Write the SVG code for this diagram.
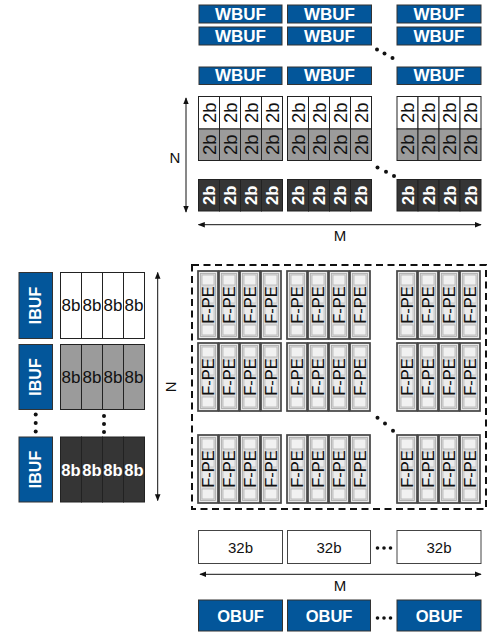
<svg xmlns="http://www.w3.org/2000/svg" xmlns:xlink="http://www.w3.org/1999/xlink" width="487" height="637" viewBox="0 0 487 637">
<style>
text{font-family:"Liberation Sans",Arial,sans-serif}
.buf{fill:#03569a;stroke:#333;stroke-width:1}
.bt{fill:#fff;font-weight:bold;text-anchor:middle;dominant-baseline:central}
.cell{stroke:#222;stroke-width:1}
.w{fill:#fff}.g{fill:#9b9b9b}.d{fill:#353535}
.t{font-size:17px;fill:#111;text-anchor:middle;dominant-baseline:central}
.t2{font-size:18.5px}
.tw{font-size:16.5px;fill:#fff;font-weight:bold;text-anchor:middle;dominant-baseline:central}
.pe{font-size:16.5px;fill:#111;text-anchor:middle;dominant-baseline:central}
.lbl{font-size:15px;fill:#111;text-anchor:middle;dominant-baseline:central}
.ln{stroke:#111;stroke-width:1;fill:none}
.dot{fill:#111}
.box{fill:#fff;stroke:#444;stroke-width:1}
</style>
<defs>
<marker id="ah" viewBox="0 0 10 10" refX="9" refY="5" markerWidth="7" markerHeight="7" orient="auto-start-reverse" markerUnits="userSpaceOnUse"><path d="M0,1 L10,5 L0,9 Z" fill="#111"/></marker>
<g id="pecell">
<rect x="0" y="0" width="20" height="68" fill="#e9e9e9" stroke="#444" stroke-width="1.7"/>
<rect x="2.5" y="2.5" width="15" height="63" fill="#dcdcdc" stroke="#a8a8a8" stroke-width="0.8"/>
<rect x="4" y="4" width="12" height="10" fill="#f1f1f1" stroke="#b5b5b5" stroke-width="0.8"/>
<rect x="4" y="18" width="12" height="14" fill="#ececec" stroke="#c2c2c2" stroke-width="0.8"/>
<rect x="4" y="36" width="12" height="14" fill="#ececec" stroke="#c2c2c2" stroke-width="0.8"/>
<rect x="4" y="54" width="12" height="10" fill="#f1f1f1" stroke="#b5b5b5" stroke-width="0.8"/>
</g>
</defs>

<!-- WBUF -->
<g id="wbuf">
<rect class="buf" x="199" y="5" width="83" height="18"/><text class="bt" x="240.5" y="14" font-size="17">WBUF</text>
<rect class="buf" x="287.5" y="5" width="84" height="18"/><text class="bt" x="329.5" y="14" font-size="17">WBUF</text>
<rect class="buf" x="397" y="5" width="84" height="18"/><text class="bt" x="439" y="14" font-size="17">WBUF</text>
<rect class="buf" x="199" y="27" width="83" height="18"/><text class="bt" x="240.5" y="36" font-size="17">WBUF</text>
<rect class="buf" x="287.5" y="27" width="84" height="18"/><text class="bt" x="329.5" y="36" font-size="17">WBUF</text>
<rect class="buf" x="397" y="27" width="84" height="18"/><text class="bt" x="439" y="36" font-size="17">WBUF</text>
<rect class="buf" x="199" y="67" width="83" height="17.5"/><text class="bt" x="240.5" y="75.8" font-size="17">WBUF</text>
<rect class="buf" x="287.5" y="67" width="84" height="17.5"/><text class="bt" x="329.5" y="75.8" font-size="17">WBUF</text>
<rect class="buf" x="397" y="67" width="84" height="17.5"/><text class="bt" x="439" y="75.8" font-size="17">WBUF</text>
<circle class="dot" cx="377" cy="49.5" r="2"/><circle class="dot" cx="384.5" cy="53.5" r="2"/><circle class="dot" cx="392.5" cy="58" r="2"/>
</g>

<!-- 2b weight grid -->
<g id="wgrid">
<g id="wg1">
<rect class="cell w" x="198.5" y="96.5" width="21" height="32.5"/><rect class="cell w" x="219.5" y="96.5" width="21" height="32.5"/><rect class="cell w" x="240.5" y="96.5" width="21" height="32.5"/><rect class="cell w" x="261.5" y="96.5" width="21" height="32.5"/>
<rect class="cell g" x="198.5" y="129" width="21" height="31.5"/><rect class="cell g" x="219.5" y="129" width="21" height="31.5"/><rect class="cell g" x="240.5" y="129" width="21" height="31.5"/><rect class="cell g" x="261.5" y="129" width="21" height="31.5"/>
<rect class="cell d" x="198.5" y="179.5" width="21" height="31.5"/><rect class="cell d" x="219.5" y="179.5" width="21" height="31.5"/><rect class="cell d" x="240.5" y="179.5" width="21" height="31.5"/><rect class="cell d" x="261.5" y="179.5" width="21" height="31.5"/>
<text class="t t2" transform="translate(209,112.8) rotate(-90)">2b</text><text class="t t2" transform="translate(230,112.8) rotate(-90)">2b</text><text class="t t2" transform="translate(251,112.8) rotate(-90)">2b</text><text class="t t2" transform="translate(272,112.8) rotate(-90)">2b</text>
<text class="t t2" transform="translate(209,144.8) rotate(-90)">2b</text><text class="t t2" transform="translate(230,144.8) rotate(-90)">2b</text><text class="t t2" transform="translate(251,144.8) rotate(-90)">2b</text><text class="t t2" transform="translate(272,144.8) rotate(-90)">2b</text>
<text class="tw" transform="translate(209,195.3) rotate(-90)">2b</text><text class="tw" transform="translate(230,195.3) rotate(-90)">2b</text><text class="tw" transform="translate(251,195.3) rotate(-90)">2b</text><text class="tw" transform="translate(272,195.3) rotate(-90)">2b</text>
</g>
<g id="wg2">
<rect class="cell w" x="287.5" y="96.5" width="21" height="32.5"/><rect class="cell w" x="308.5" y="96.5" width="21" height="32.5"/><rect class="cell w" x="329.5" y="96.5" width="21" height="32.5"/><rect class="cell w" x="350.5" y="96.5" width="21" height="32.5"/>
<rect class="cell g" x="287.5" y="129" width="21" height="31.5"/><rect class="cell g" x="308.5" y="129" width="21" height="31.5"/><rect class="cell g" x="329.5" y="129" width="21" height="31.5"/><rect class="cell g" x="350.5" y="129" width="21" height="31.5"/>
<rect class="cell d" x="287.5" y="179.5" width="21" height="31.5"/><rect class="cell d" x="308.5" y="179.5" width="21" height="31.5"/><rect class="cell d" x="329.5" y="179.5" width="21" height="31.5"/><rect class="cell d" x="350.5" y="179.5" width="21" height="31.5"/>
<text class="t t2" transform="translate(298,112.8) rotate(-90)">2b</text><text class="t t2" transform="translate(319,112.8) rotate(-90)">2b</text><text class="t t2" transform="translate(340,112.8) rotate(-90)">2b</text><text class="t t2" transform="translate(361,112.8) rotate(-90)">2b</text>
<text class="t t2" transform="translate(298,144.8) rotate(-90)">2b</text><text class="t t2" transform="translate(319,144.8) rotate(-90)">2b</text><text class="t t2" transform="translate(340,144.8) rotate(-90)">2b</text><text class="t t2" transform="translate(361,144.8) rotate(-90)">2b</text>
<text class="tw" transform="translate(298,195.3) rotate(-90)">2b</text><text class="tw" transform="translate(319,195.3) rotate(-90)">2b</text><text class="tw" transform="translate(340,195.3) rotate(-90)">2b</text><text class="tw" transform="translate(361,195.3) rotate(-90)">2b</text>
</g>
<g id="wg3">
<rect class="cell w" x="397" y="96.5" width="21" height="32.5"/><rect class="cell w" x="418" y="96.5" width="21" height="32.5"/><rect class="cell w" x="439" y="96.5" width="21" height="32.5"/><rect class="cell w" x="460" y="96.5" width="21" height="32.5"/>
<rect class="cell g" x="397" y="129" width="21" height="31.5"/><rect class="cell g" x="418" y="129" width="21" height="31.5"/><rect class="cell g" x="439" y="129" width="21" height="31.5"/><rect class="cell g" x="460" y="129" width="21" height="31.5"/>
<rect class="cell d" x="397" y="179.5" width="21" height="31.5"/><rect class="cell d" x="418" y="179.5" width="21" height="31.5"/><rect class="cell d" x="439" y="179.5" width="21" height="31.5"/><rect class="cell d" x="460" y="179.5" width="21" height="31.5"/>
<text class="t t2" transform="translate(407.5,112.8) rotate(-90)">2b</text><text class="t t2" transform="translate(428.5,112.8) rotate(-90)">2b</text><text class="t t2" transform="translate(449.5,112.8) rotate(-90)">2b</text><text class="t t2" transform="translate(470.5,112.8) rotate(-90)">2b</text>
<text class="t t2" transform="translate(407.5,144.8) rotate(-90)">2b</text><text class="t t2" transform="translate(428.5,144.8) rotate(-90)">2b</text><text class="t t2" transform="translate(449.5,144.8) rotate(-90)">2b</text><text class="t t2" transform="translate(470.5,144.8) rotate(-90)">2b</text>
<text class="tw" transform="translate(407.5,195.3) rotate(-90)">2b</text><text class="tw" transform="translate(428.5,195.3) rotate(-90)">2b</text><text class="tw" transform="translate(449.5,195.3) rotate(-90)">2b</text><text class="tw" transform="translate(470.5,195.3) rotate(-90)">2b</text>
</g>
<circle class="dot" cx="377.5" cy="167.5" r="2"/><circle class="dot" cx="386" cy="171.7" r="2"/><circle class="dot" cx="394" cy="176" r="2"/>
</g>

<!-- IBUF -->
<g id="ibuf">
<rect class="buf" x="19" y="272.5" width="33.5" height="66"/><text class="bt" font-size="16" transform="translate(35.7,305.5) rotate(-90)">IBUF</text>
<rect class="buf" x="19" y="344.5" width="33.5" height="65"/><text class="bt" font-size="16" transform="translate(35.7,377) rotate(-90)">IBUF</text>
<rect class="buf" x="19" y="437" width="33.5" height="65"/><text class="bt" font-size="16" transform="translate(35.7,469.5) rotate(-90)">IBUF</text>
<circle class="dot" cx="35.7" cy="414.5" r="2"/><circle class="dot" cx="35.7" cy="423" r="2"/><circle class="dot" cx="35.7" cy="431.5" r="2"/>
</g>

<!-- 8b input grid -->
<g id="igrid">
<rect class="cell w" x="60.5" y="272.5" width="21" height="66"/><rect class="cell w" x="81.5" y="272.5" width="21" height="66"/><rect class="cell w" x="102.5" y="272.5" width="21" height="66"/><rect class="cell w" x="123.5" y="272.5" width="21" height="66"/>
<rect class="cell g" x="60.5" y="344.5" width="21" height="65"/><rect class="cell g" x="81.5" y="344.5" width="21" height="65"/><rect class="cell g" x="102.5" y="344.5" width="21" height="65"/><rect class="cell g" x="123.5" y="344.5" width="21" height="65"/>
<rect class="cell d" x="60.5" y="437" width="21" height="65"/><rect class="cell d" x="81.5" y="437" width="21" height="65"/><rect class="cell d" x="102.5" y="437" width="21" height="65"/><rect class="cell d" x="123.5" y="437" width="21" height="65"/>
<text class="t" x="71" y="305.5">8b</text><text class="t" x="92" y="305.5">8b</text><text class="t" x="113" y="305.5">8b</text><text class="t" x="134" y="305.5">8b</text>
<text class="t" x="71" y="377">8b</text><text class="t" x="92" y="377">8b</text><text class="t" x="113" y="377">8b</text><text class="t" x="134" y="377">8b</text>
<text class="tw" x="71" y="469.5">8b</text><text class="tw" x="92" y="469.5">8b</text><text class="tw" x="113" y="469.5">8b</text><text class="tw" x="134" y="469.5">8b</text>
<circle class="dot" cx="104" cy="416" r="2"/><circle class="dot" cx="104" cy="424" r="2"/><circle class="dot" cx="104" cy="432" r="2"/>
</g>

<!-- F-PE array -->
<g id="pearray">
<rect x="192" y="265" width="294" height="244" fill="none" stroke="#111" stroke-width="2" stroke-dasharray="7,4.5"/>
<g id="pe-r1">
<use xlink:href="#pecell" x="198" y="271"/><use xlink:href="#pecell" x="219" y="271"/><use xlink:href="#pecell" x="240" y="271"/><use xlink:href="#pecell" x="261" y="271"/>
<use xlink:href="#pecell" x="287" y="271"/><use xlink:href="#pecell" x="308" y="271"/><use xlink:href="#pecell" x="329" y="271"/><use xlink:href="#pecell" x="350" y="271"/>
<use xlink:href="#pecell" x="397" y="271"/><use xlink:href="#pecell" x="418" y="271"/><use xlink:href="#pecell" x="439" y="271"/><use xlink:href="#pecell" x="460" y="271"/>
<text class="pe" transform="translate(208,305) rotate(-90)">F-PE</text><text class="pe" transform="translate(229,305) rotate(-90)">F-PE</text><text class="pe" transform="translate(250,305) rotate(-90)">F-PE</text><text class="pe" transform="translate(271,305) rotate(-90)">F-PE</text>
<text class="pe" transform="translate(297,305) rotate(-90)">F-PE</text><text class="pe" transform="translate(318,305) rotate(-90)">F-PE</text><text class="pe" transform="translate(339,305) rotate(-90)">F-PE</text><text class="pe" transform="translate(360,305) rotate(-90)">F-PE</text>
<text class="pe" transform="translate(407,305) rotate(-90)">F-PE</text><text class="pe" transform="translate(428,305) rotate(-90)">F-PE</text><text class="pe" transform="translate(449,305) rotate(-90)">F-PE</text><text class="pe" transform="translate(470,305) rotate(-90)">F-PE</text>
</g>
<g id="pe-r2">
<use xlink:href="#pecell" x="198" y="343"/><use xlink:href="#pecell" x="219" y="343"/><use xlink:href="#pecell" x="240" y="343"/><use xlink:href="#pecell" x="261" y="343"/>
<use xlink:href="#pecell" x="287" y="343"/><use xlink:href="#pecell" x="308" y="343"/><use xlink:href="#pecell" x="329" y="343"/><use xlink:href="#pecell" x="350" y="343"/>
<use xlink:href="#pecell" x="397" y="343"/><use xlink:href="#pecell" x="418" y="343"/><use xlink:href="#pecell" x="439" y="343"/><use xlink:href="#pecell" x="460" y="343"/>
<text class="pe" transform="translate(208,377) rotate(-90)">F-PE</text><text class="pe" transform="translate(229,377) rotate(-90)">F-PE</text><text class="pe" transform="translate(250,377) rotate(-90)">F-PE</text><text class="pe" transform="translate(271,377) rotate(-90)">F-PE</text>
<text class="pe" transform="translate(297,377) rotate(-90)">F-PE</text><text class="pe" transform="translate(318,377) rotate(-90)">F-PE</text><text class="pe" transform="translate(339,377) rotate(-90)">F-PE</text><text class="pe" transform="translate(360,377) rotate(-90)">F-PE</text>
<text class="pe" transform="translate(407,377) rotate(-90)">F-PE</text><text class="pe" transform="translate(428,377) rotate(-90)">F-PE</text><text class="pe" transform="translate(449,377) rotate(-90)">F-PE</text><text class="pe" transform="translate(470,377) rotate(-90)">F-PE</text>
</g>
<g id="pe-r3">
<use xlink:href="#pecell" x="198" y="435"/><use xlink:href="#pecell" x="219" y="435"/><use xlink:href="#pecell" x="240" y="435"/><use xlink:href="#pecell" x="261" y="435"/>
<use xlink:href="#pecell" x="287" y="435"/><use xlink:href="#pecell" x="308" y="435"/><use xlink:href="#pecell" x="329" y="435"/><use xlink:href="#pecell" x="350" y="435"/>
<use xlink:href="#pecell" x="397" y="435"/><use xlink:href="#pecell" x="418" y="435"/><use xlink:href="#pecell" x="439" y="435"/><use xlink:href="#pecell" x="460" y="435"/>
<text class="pe" transform="translate(208,469) rotate(-90)">F-PE</text><text class="pe" transform="translate(229,469) rotate(-90)">F-PE</text><text class="pe" transform="translate(250,469) rotate(-90)">F-PE</text><text class="pe" transform="translate(271,469) rotate(-90)">F-PE</text>
<text class="pe" transform="translate(297,469) rotate(-90)">F-PE</text><text class="pe" transform="translate(318,469) rotate(-90)">F-PE</text><text class="pe" transform="translate(339,469) rotate(-90)">F-PE</text><text class="pe" transform="translate(360,469) rotate(-90)">F-PE</text>
<text class="pe" transform="translate(407,469) rotate(-90)">F-PE</text><text class="pe" transform="translate(428,469) rotate(-90)">F-PE</text><text class="pe" transform="translate(449,469) rotate(-90)">F-PE</text><text class="pe" transform="translate(470,469) rotate(-90)">F-PE</text>
</g>
<circle class="dot" cx="377.5" cy="417.7" r="2"/><circle class="dot" cx="385" cy="423.5" r="2"/><circle class="dot" cx="393" cy="430.7" r="2"/>
</g>

<!-- 32b accumulators -->
<g id="acc">
<rect class="box" x="198.5" y="530.5" width="84" height="33"/><text class="lbl" x="240.5" y="547" font-size="16.5">32b</text>
<rect class="box" x="287.5" y="530.5" width="83" height="33"/><text class="lbl" x="329" y="547" font-size="16.5">32b</text>
<rect class="box" x="397" y="530.5" width="84" height="33"/><text class="lbl" x="439" y="547" font-size="16.5">32b</text>
<circle class="dot" cx="377.5" cy="548" r="1.8"/><circle class="dot" cx="384" cy="548" r="1.8"/><circle class="dot" cx="390.5" cy="548" r="1.8"/>
</g>

<!-- OBUF -->
<g id="obuf">
<rect class="buf" x="198.5" y="600" width="84" height="31"/><text class="bt" x="240.5" y="615.5" font-size="16.5">OBUF</text>
<rect class="buf" x="287.5" y="600" width="83" height="31"/><text class="bt" x="329" y="615.5" font-size="16.5">OBUF</text>
<rect class="buf" x="397" y="600" width="84" height="31"/><text class="bt" x="439" y="615.5" font-size="16.5">OBUF</text>
<circle class="dot" cx="377.5" cy="618" r="1.8"/><circle class="dot" cx="384" cy="618" r="1.8"/><circle class="dot" cx="390.5" cy="618" r="1.8"/>
</g>

<!-- connectors / dimension arrows -->
<g id="connectors">
<line class="ln" x1="186" y1="98" x2="186" y2="212" marker-start="url(#ah)" marker-end="url(#ah)"/>
<line class="ln" x1="198.5" y1="224.7" x2="481" y2="224.7" marker-start="url(#ah)" marker-end="url(#ah)"/>
<line class="ln" x1="157.7" y1="272.5" x2="157.7" y2="500.5" marker-start="url(#ah)" marker-end="url(#ah)"/>
<line class="ln" x1="200" y1="574.3" x2="481" y2="574.3" marker-start="url(#ah)" marker-end="url(#ah)"/>
</g>
<g id="labels">
<text class="lbl" x="175" y="157">N</text>
<text class="lbl" x="340" y="235.5">M</text>
<text class="lbl" transform="translate(171,387) rotate(90)">N</text>
<text class="lbl" x="340" y="585">M</text>
</g>
</svg>
